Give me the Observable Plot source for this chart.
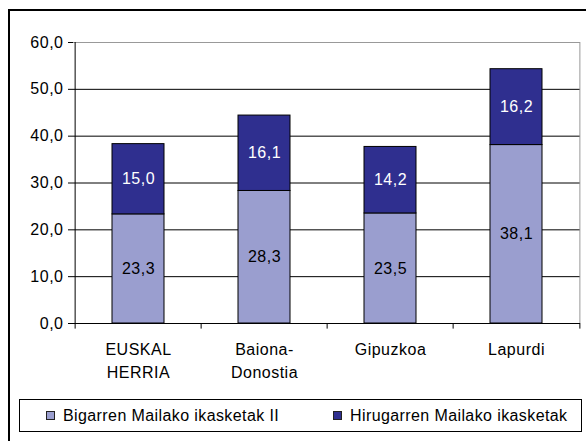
<!DOCTYPE html>
<html>
<head>
<meta charset="utf-8">
<script src="https://cdn.jsdelivr.net/npm/d3@7"></script>
<script src="https://cdn.jsdelivr.net/npm/@observablehq/plot@0.6"></script>
<style>
  html, body { margin: 0; padding: 0; background: #fff; overflow: hidden; width: 586px; height: 441px; }
  body { position: relative; font-family: "Liberation Sans", Arial, sans-serif; }
  #frame { position: absolute; left: 8px; top: 9px; width: 700px; height: 500px; border: 2px solid #000; box-sizing: border-box; }
  #chart { position: absolute; left: 0; top: 0; }
  #legend { position: absolute; left: 19px; top: 399px; width: 563px; height: 33px; border: 1px solid #000; box-sizing: border-box; background: #fff; font-size: 16px; letter-spacing: 0.4px; color: #000; }
  .item { position: absolute; top: 0; height: 31px; display: flex; align-items: center; white-space: nowrap; }
  .sw { width: 7px; height: 7px; border: 1px solid #222; margin-right: 8px; }
</style>
</head>
<body>
<div id="frame"></div>
<div id="chart"></div>
<div id="legend"></div>
<script>
const categories = ["EUSKAL\nHERRIA", "Baiona-\nDonostia", "Gipuzkoa", "Lapurdi"];
const series = ["Bigarren Mailako ikasketak II", "Hirugarren Mailako ikasketak"];
const secondLevel = [23.3, 28.3, 23.5, 38.1];
const thirdLevel = [15.0, 16.1, 14.2, 16.2];
const yTicks = [0, 10, 20, 30, 40, 50, 60];
const colors = ["#9a9ecf", "#2f2f8f"];
const labelColors = ["#000", "#fff"];

const data = [];
categories.forEach((c, i) => data.push({cat: c, series: series[0], value: secondLevel[i]}));
categories.forEach((c, i) => data.push({cat: c, series: series[1], value: thirdLevel[i]}));

const W = 586, H = 392;
const mL = 73, mR = 6, mT = 42, mB = H - 323;
const step = (W - mL - mR) / categories.length;
const fmt = d => d.toFixed(1).replace(".", ",");
const font = "Liberation Sans, Arial, sans-serif";

const chart = Plot.plot({
  width: W, height: H,
  marginLeft: mL, marginRight: mR, marginTop: mT, marginBottom: mB,
  style: {fontFamily: font, fontSize: "16px", letterSpacing: "0.5px", color: "#000", background: "transparent"},
  x: {domain: categories, paddingInner: 0.59, paddingOuter: 0.295, label: null},
  y: {domain: [0, 60], label: null},
  color: {domain: series, range: colors},
  marks: [
    Plot.ruleY(yTicks.filter(d => d > 0 && d < 60), {stroke: "#000", strokeWidth: 1}),
    Plot.ruleY([60], {stroke: "#999", strokeWidth: 1}),
    Plot.ruleX([categories[categories.length - 1]], {dx: step / 2, y1: 0, y2: 60, stroke: "#999"}),
    Plot.barY(data, {x: "cat", y: "value", fill: "series", stroke: "#000", strokeWidth: 1}),
    Plot.text(data, Plot.stackY({x: "cat", y: "value", z: "series", text: d => fmt(d.value),
      fill: d => labelColors[series.indexOf(d.series)], fontSize: 16})),
    Plot.ruleY([0], {stroke: "#000", strokeWidth: 1}),
    Plot.ruleX([categories[0]], {dx: -step / 2, y1: 0, y2: 60, stroke: "#000"}),
    Plot.ruleX(categories, {dx: -step / 2, y1: 0, y2: -1.2, stroke: "#000"}),
    Plot.ruleX([categories[categories.length - 1]], {dx: step / 2, y1: 0, y2: -1.2, stroke: "#000"}),
    Plot.axisY({ticks: yTicks, tickFormat: fmt, tickSize: 5, tickPadding: 5, fontSize: 16, stroke: "#000"}),
    Plot.axisX({tickSize: 0, tickPadding: 16, fontSize: 16, lineHeight: 1.4})
  ]
});
document.getElementById("chart").appendChild(chart);

const legend = document.getElementById("legend");
const lefts = [26, 313];
series.forEach((s, i) => {
  const it = document.createElement("div");
  it.className = "item";
  it.style.left = lefts[i] + "px";
  const sw = document.createElement("span");
  sw.className = "sw";
  sw.style.background = colors[i];
  const tx = document.createElement("span");
  tx.textContent = s;
  it.appendChild(sw); it.appendChild(tx);
  legend.appendChild(it);
});
</script>
</body>
</html>
